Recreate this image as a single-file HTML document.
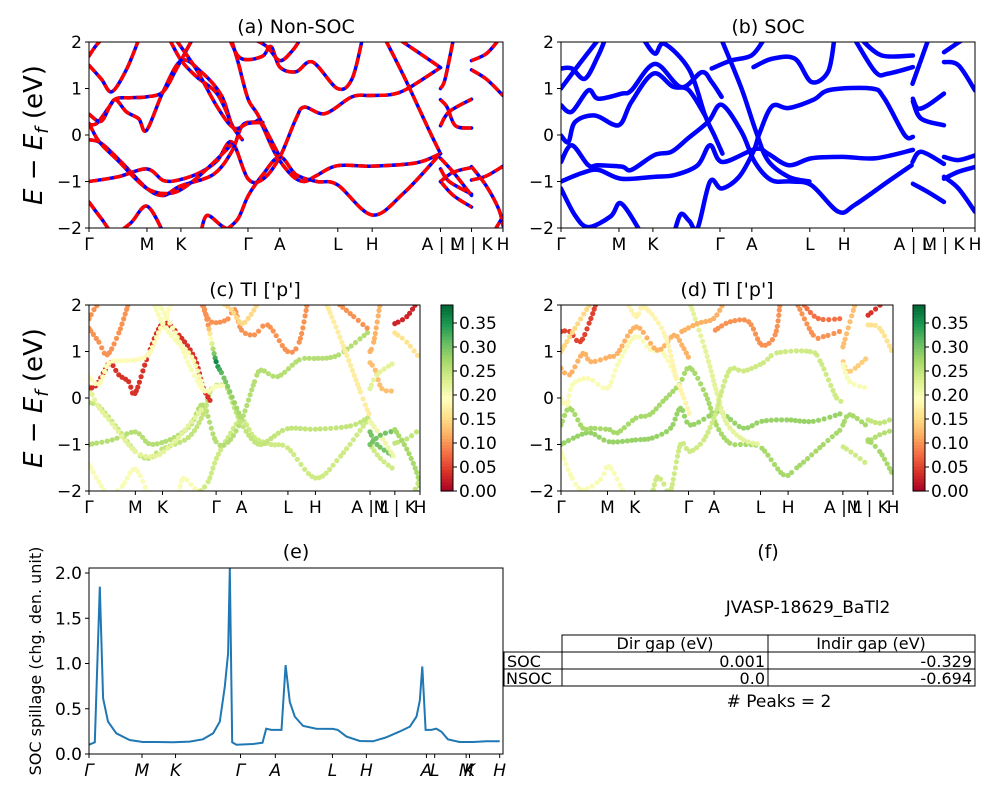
<!DOCTYPE html>
<html><head><meta charset="utf-8"><style>
body{margin:0;background:#fff;}
svg{display:block;font-family:"DejaVu Sans","Liberation Sans",sans-serif;}
</style></head><body>
<svg id="fig" width="1000" height="800" viewBox="0 0 1000 800" xmlns="http://www.w3.org/2000/svg"></svg>
<script>
// ---------- data ----------
const kTicks = [0, .140, .222, .384, .461, .601, .684, .849, .924, 1];
const kTickLabels = ["Γ","M","K","Γ","A","L","H","A | L","M | K","H"];
const eTicks = [-2,-1,0,1,2];
const eTickLabels = ["−2","−1","0","1","2"];

const bandsNonSOC = [
 [[0,-1.44],[.03,-1.8],[.06,-2.1],[.1,-1.9],[.14,-1.53],[.18,-2.1]],
 [[.27,-2.1],[.285,-1.73],[.32,-1.95],[.35,-2.1]],
 [[.33,-2.05],[.36,-1.8],[.385,-1.3],[.42,-.85],[.461,-.47],[.5,-.85],[.55,-1.0],[.6,-1.07],[.684,-1.72],[.76,-1.25],[.849,-.4]],
 [[0,-1.0],[.07,-.9],[.14,-.73],[.18,-.98],[.22,-.96],[.27,-.8],[.31,-.55],[.345,-.15],[.384,-.94],[.42,-.95],[.461,-.47],[.5,.35],[.52,.6],[.57,.46],[.635,.82],[.68,.85],[.73,.87],[.77,1.0],[.849,1.45]],
 [[0,-.1],[.03,-.18],[.08,-.6],[.14,-1.15],[.18,-1.3],[.22,-1.1],[.3,-.85],[.345,-.35],[.37,.2],[.4,.28],[.415,.26],[.45,-.4],[.49,-.87],[.52,-1.0],[.55,-.87],[.6,-.66],[.684,-.67],[.79,-.6],[.849,-.4]],
 [[0,.25],[.025,-.15],[.07,-.55],[.14,-1.15],[.2,-1.25],[.25,-1.0],[.3,-.6],[.345,-.2]],
 [[0,.22],[.02,.26],[.05,.62],[.065,.76],[.09,.5],[.12,.35],[.139,.1],[.179,.93],[.223,1.6],[.272,1.35],[.32,.85],[.345,.22],[.37,-.1]],
 [[0,.45],[.03,.3],[.06,.75],[.1,.8],[.139,.82],[.179,.93],[.21,1.4],[.24,1.9],[.25,2.05]],
 [[.195,2.05],[.223,1.6],[.26,1.25],[.31,.88],[.345,.22]],
 [[.21,2.05],[.26,1.4],[.31,.6],[.35,.15],[.384,.25],[.42,.27]],
 [[0,1.7],[.015,1.9],[.03,2.05]],
 [[0,1.5],[.03,1.2],[.055,.93],[.09,1.4],[.12,2.05]],
 [[.344,2.05],[.36,1.57],[.384,.78],[.408,.43],[.461,-.47]],
 [[.34,2.05],[.36,1.7],[.384,1.62],[.42,1.7],[.44,1.9],[.461,1.46],[.5,1.36],[.54,1.57],[.6,1.0],[.635,1.2],[.66,2.05]],
 [[.4,2.05],[.43,1.9],[.461,1.6],[.49,1.8],[.51,2.05]],
 [[.716,2.05],[.764,1.2],[.82,.13],[.849,-.4]],
 [[.75,2.05],[.8,1.75],[.849,1.45]],
 [[.849,1.0],[.86,1.2],[.88,2.05]],
 [[.849,.76],[.865,.6],[.885,.2],[.924,.15]],
 [[.849,.2],[.87,.5],[.924,.77]],
 [[.849,-.73],[.87,-1.0],[.924,-1.27]],
 [[.849,-1.0],[.88,-1.3],[.924,-1.55]],
 [[.849,-.5],[.88,-.8],[.924,-1.3]],
 [[.849,-1.0],[.88,-.8],[.924,-.7]],
 [[.924,1.6],[.96,1.75],[.99,2.05]],
 [[.924,1.4],[.96,1.2],[1,.85]],
 [[.924,-.97],[.96,-.88],[1,-.67]],
 [[.924,-.68],[.96,-1.1],[.99,-1.6],[1,-1.95]],
 [[.98,-2.05],[1,-1.75]]
];
const weightsNonSOC = [.2,.2,.24,.26,.25,.22,.04,.19,.2,.2,.1,.1,[.1,.1,.36,.3,.26],.1,.15,.17,.1,.12,.13,.22,.3,.24,.21,.3,.03,.16,.25,.27,.25];

const bandsSOC = [
 [[0,-1.15],[.034,-1.73],[.066,-1.98],[.12,-1.75],[.145,-1.47],[.19,-2.05]],
 [[0,-1.0],[.05,-.82],[.09,-.75],[.145,-.94],[.225,-.9],[.275,-.86],[.33,-.65],[.36,-.22],[.39,-.58],[.47,-.3],[.5,-.4],[.55,-.65],[.605,-.5],[.68,-.47],[.76,-.5],[.85,-.32]],
 [[0,-.58],[.026,-.22],[.066,-.65],[.09,-.65],[.147,-.68],[.17,-.75],[.226,-.43],[.267,-.36],[.307,-.07],[.356,.29],[.388,.65],[.436,.07],[.468,-.58],[.508,-.97],[.557,-1.0],[.605,-1.08],[.67,-1.65],[.71,-1.5],[.79,-1.0],[.847,-.65]],
 [[0,-.01],[.018,-.15],[.034,.28],[.082,.42],[.139,.21],[.17,.71],[.223,1.32],[.27,1.04],[.308,.97],[.348,.42]],
 [[0,.64],[.026,.5],[.066,.96],[.09,.78],[.147,.89],[.17,.96],[.227,1.53],[.29,1.03],[.34,1.35],[.364,1.14],[.388,.82]],
 [[0,1.43],[.026,1.43],[.058,1.21],[.09,1.71],[.106,2.05]],
 [[0,1.0],[.042,1.5],[.09,2.05]],
 [[.2,2.05],[.227,1.75],[.25,1.96],[.31,1.4],[.348,.42],[.37,.0],[.39,-.4]],
 [[.388,2.05],[.436,1.0],[.47,.1],[.5,-.55],[.55,-.9],[.6,-1.0]],
 [[.275,-2.05],[.29,-1.7],[.31,-1.85],[.33,-2.0],[.36,-1.0],[.388,-1.15],[.43,-.9],[.465,-.35],[.48,.05],[.51,.62],[.55,.58],[.61,.76],[.65,.97],[.75,1.0],[.78,.8],[.83,0],[.85,-.04]],
 [[.465,1.46],[.51,1.64],[.565,1.64],[.605,1.14],[.645,1.36],[.66,2.05]],
 [[.364,1.43],[.41,1.6],[.46,1.71],[.49,2.05]],
 [[.71,2.05],[.76,1.35],[.79,1.32],[.85,1.46]],
 [[.726,2.05],[.775,1.71],[.85,1.71]],
 [[.849,1.1],[.887,2.05]],
 [[.85,.78],[.862,.57],[.886,.64],[.925,.89]],
 [[.85,.72],[.87,.35],[.925,.21]],
 [[.849,-.58],[.87,-.36],[.925,-.62]],
 [[.85,-1.05],[.887,-1.23],[.925,-1.44]],
 [[.925,1.78],[.97,2.05]],
 [[.925,1.57],[.96,1.5],[1,.96]],
 [[.925,-.47],[.96,-.54],[1,-.44]],
 [[.925,-.94],[.96,-.79],[1,-.69]],
 [[.925,-.9],[.96,-1.15],[1,-1.65]]
];
const weightsSOC = [.2,.28,.27,.2,.12,.05,.15,.18,.22,.24,.1,.12,.1,.08,.13,.14,.2,.27,.24,.04,.16,.25,.26,.27];

const spillK = [0,.014,.026,.034,.046,.066,.098,.130,.163,.203,.243,.275,.300,.316,.328,.336,.340,.346,.356,.396,.419,.428,.440,.465,.475,.485,.497,.517,.549,.589,.601,.622,.654,.686,.718,.750,.775,.791,.799,.805,.813,.827,.839,.851,.867,.895,.928,.960,.992];
const spillVal = [.103,.129,1.85,.616,.358,.229,.155,.133,.133,.129,.137,.162,.229,.358,.745,1.114,2.05,.129,.103,.111,.125,.280,.266,.266,.982,.576,.413,.310,.280,.277,.266,.192,.144,.140,.185,.247,.303,.413,.59,.967,.266,.266,.280,.247,.162,.133,.133,.140,.140];
const spillTicks = [0,.128,.209,.366,.450,.588,.670,.815,.835,.911,.919,.992];
const spillTickLabels = ["Γ","M","K","Γ","A","L","H","A","L","M","K","H"];
const spillYTicks = [0,.5,1,1.5,2];
const spillYLabels = ["0.0","0.5","1.0","1.5","2.0"];
const cbTicks = [0,.05,.1,.15,.2,.25,.3,.35];
const cbLabels = ["0.00","0.05","0.10","0.15","0.20","0.25","0.30","0.35"];

// ---------- helpers ----------
const NS="http://www.w3.org/2000/svg";
const svg=document.getElementById('fig');
function mk(tag,attrs,parent){const e=document.createElementNS(NS,tag);for(const k in attrs)e.setAttribute(k,attrs[k]);(parent||svg).appendChild(e);return e;}
function txt(s,x,y,size,anchor,parent,extra){const e=mk('text',Object.assign({x:x,y:y,'font-size':size,'text-anchor':anchor||'middle',fill:'#000'},extra||{}),parent);e.textContent=s;return e;}
const cmapStops=['#a50026','#d73027','#f46d43','#fdae61','#fee08b','#ffffbf','#d9ef8b','#a6d96a','#66bd63','#1a9850','#006837'];
function hex(c){return [parseInt(c.substr(1,2),16),parseInt(c.substr(3,2),16),parseInt(c.substr(5,2),16)];}
function cmap(v){v=Math.max(0,Math.min(1,v));const p=v*10,i=Math.min(9,Math.floor(p)),f=p-i;const a=hex(cmapStops[i]),b=hex(cmapStops[i+1]);return 'rgb('+a.map((x,j)=>Math.round(x+(b[j]-x)*f)).join(',')+')';}
const VMAX=0.3875;

function makePanel(x0,x1,y0,y1,emin,emax,clipId){
 const p={x0,x1,y0,y1,sx:k=>x0+k*(x1-x0),sy:e=>y0+(emax-e)/(emax-emin)*(y1-y0)};
 const cp=mk('clipPath',{id:clipId});mk('rect',{x:x0,y:y0,width:x1-x0,height:y1-y0},cp);
 return p;
}
function bez(p,pts){
 const P=pts.map(q=>[p.sx(q[0]),p.sy(q[1])]);const segs=[];
 for(let i=0;i<P.length-1;i++){const a=P[Math.max(0,i-1)],b=P[i],c=P[i+1],d=P[Math.min(P.length-1,i+2)];
  segs.push([b,[b[0]+(c[0]-a[0])/6,b[1]+(c[1]-a[1])/6],[c[0]-(d[0]-b[0])/6,c[1]-(d[1]-b[1])/6],c]);}
 return segs;
}
function pathD(segs){let d='M'+segs[0][0][0].toFixed(1)+','+segs[0][0][1].toFixed(1);segs.forEach(s=>{d+='C'+s[1].join(',')+' '+s[2].join(',')+' '+s[3].join(',');});return d;}
function evalB(s,t){const u=1-t;return [0,1].map(j=>u*u*u*s[0][j]+3*u*u*t*s[1][j]+3*u*t*t*s[2][j]+t*t*t*s[3][j]);}

function axesFrame(p,name){
 mk('rect',{x:p.x0,y:p.y0,width:p.x1-p.x0,height:p.y1-p.y0,fill:'none',stroke:'#000','stroke-width':1,});
}
function xTicks(p,ticks,labels,name,italic,size){
 const g=mk('g',{});
 ticks.forEach((k,i)=>{const x=p.sx(k);mk('line',{x1:x,x2:x,y1:p.y1,y2:p.y1+4,stroke:'#000'},g);
  txt(labels[i],x,p.y1+22,size||17,'middle',g,italic?{'font-style':'italic'}:{});});
}
function yTicks(p,vals,labels,name){
 const g=mk('g',{});
 vals.forEach((v,i)=>{const y=p.sy(v);mk('line',{x1:p.x0-4,x2:p.x0,y1:y,y2:y,stroke:'#000'},g);txt(labels[i],p.x0-7,y+6,17,'end',g);});
}
function eLabel(x,y){
 const t=mk('text',{x:x,y:y,'font-size':26,'text-anchor':'middle',transform:'rotate(-90 '+x+' '+y+')',});
 t.innerHTML='<tspan font-style="italic">E</tspan> − <tspan font-style="italic">E</tspan><tspan font-style="italic" font-size="18" dy="6">f</tspan><tspan dy="-6"> (eV)</tspan>';
}
function drawLines(p,bands,clip,name,dashed){
 const g=mk('g',{'clip-path':'url(#'+clip+')',});
 bands.forEach((b,i)=>{const d=pathD(bez(p,b));
  const l=mk('path',{d:d,fill:'none',stroke:'#0000ff','stroke-width':dashed?3.5:4.5,'stroke-linecap':'round'},g);
  
  
  if(dashed){const r=mk('path',{d:d,fill:'none',stroke:'#ff0000','stroke-width':3.5,'stroke-dasharray':'9 3.5'},g);
   
   }
 });
}
function drawScatter(p,bands,weights,clip,name){
 const g=mk('g',{'clip-path':'url(#'+clip+')',});
 bands.forEach((b,i)=>{const segs=bez(p,b);const w=weights[i];
  segs.forEach((s,si)=>{const len=Math.hypot(s[3][0]-s[0][0],s[3][1]-s[0][1])+1;const n=Math.max(1,Math.round(len/5));
   for(let j=0;j<n;j++){const t=j/n;const pt=evalB(s,t);
    const wv=Array.isArray(w)?w[si]+(w[si+1]-w[si])*t:w;
    const c=mk('circle',{cx:pt[0].toFixed(1),cy:pt[1].toFixed(1),r:2.6,fill:cmap(wv/VMAX)},g);
    
    }
  });
 });
}
function colorbar(x0,y0,w,h,name){
 const g=mk('g',{});
 const n=60;for(let i=0;i<n;i++){mk('rect',{x:x0,y:y0+h-(i+1)*h/n,width:w,height:h/n+0.6,fill:cmap((i+0.5)/n)},g);}
 mk('rect',{x:x0,y:y0,width:w,height:h,fill:'none',stroke:'#000'},g);
 cbTicks.forEach((v,i)=>{const y=y0+h-v/VMAX*h;mk('line',{x1:x0+w,x2:x0+w+4,y1:y,y2:y,stroke:'#000'},g);txt(cbLabels[i],x0+w+6,y+6,17,'start',g);});
}

// ---------- panels ----------
const pa=makePanel(89,503,42,228,-2,2,'ca');
const pb=makePanel(561,975,42,228,-2,2,'cb');
const pc=makePanel(89,420,305,491,-2,2,'cc');
const pd=makePanel(561,893,305,491,-2,2,'cd');

drawLines(pa,bandsNonSOC,'ca','nonsoc-bands',true);
drawLines(pb,bandsSOC,'cb','soc-bands',false);
drawScatter(pc,bandsNonSOC,weightsNonSOC,'cc','tl-p-projection-c');
drawScatter(pd,bandsSOC,weightsSOC,'cd','tl-p-projection-d');

[[pa,'panel-a'],[pb,'panel-b'],[pc,'panel-c'],[pd,'panel-d']].forEach(([p,n])=>{axesFrame(p,n);xTicks(p,kTicks,kTickLabels,n);yTicks(p,eTicks,eTickLabels,n);});
colorbar(441,305,12,186,'colorbar-c');
colorbar(913,305,12,186,'colorbar-d');

txt('(a) Non-SOC',296,33,19,'middle',null,{});
txt('(b) SOC',768,33,19,'middle',null,{});
txt('(c)  Tl [\'p\']',255,296,19,'middle',null,{});
txt('(d) Tl [\'p\']',727,296,19,'middle',null,{});
eLabel(42,135);
eLabel(42,398);

// ---------- panel e ----------
const pe={x0:89,x1:503,y0:568,y1:754,sx:k=>89+k*414,sy:v=>754-v*90.5};
mk('clipPath',{id:'ce'}).appendChild((()=>{const r=document.createElementNS(NS,'rect');r.setAttribute('x',89);r.setAttribute('y',568);r.setAttribute('width',414);r.setAttribute('height',186);return r;})());
let d='';spillK.forEach((k,i)=>{d+=(i?'L':'M')+pe.sx(k).toFixed(1)+','+pe.sy(spillVal[i]).toFixed(1);});
mk('path',{d:d,fill:'none',stroke:'#1f77b4','stroke-width':2,'clip-path':'url(#ce)',});
axesFrame(pe,'panel-e');
xTicks(pe,spillTicks,spillTickLabels,'panel-e',true);
yTicks(pe,spillYTicks,spillYLabels,'panel-e');
txt('(e)',296,558,19,'middle',null,{});
const yl=mk('text',{x:41,y:661,'font-size':16,'text-anchor':'middle',transform:'rotate(-90 41 661)',});yl.textContent='SOC spillage (chg. den. unit)';

// ---------- panel f ----------
txt('(f)',768,558,19,'middle',null,{});
txt('JVASP-18629_BaTl2',808,613,17,'middle',null,{});
const tg=mk('g',{});
[[562,635,206,17],[768,635,207,17],[504,652,58,17],[562,652,206,17],[768,652,207,17],[504,669,58,17],[562,669,206,17],[768,669,207,17]].forEach(c=>mk('rect',{x:c[0],y:c[1],width:c[2],height:c[3],fill:'none',stroke:'#000','stroke-width':1},tg));
txt('Dir gap (eV)',665,649,16,'middle',tg);
txt('Indir gap (eV)',871,649,16,'middle',tg);
txt('SOC',507,667,16,'start',tg);
txt('0.001',765,667,16,'end',tg);
txt('-0.329',972,667,16,'end',tg);
txt('NSOC',506,684,16,'start',tg);
txt('0.0',765,684,16,'end',tg);
txt('-0.694',972,684,16,'end',tg);
txt('# Peaks = 2',779,707,17,'middle',null,{});
</script>
</body></html>
